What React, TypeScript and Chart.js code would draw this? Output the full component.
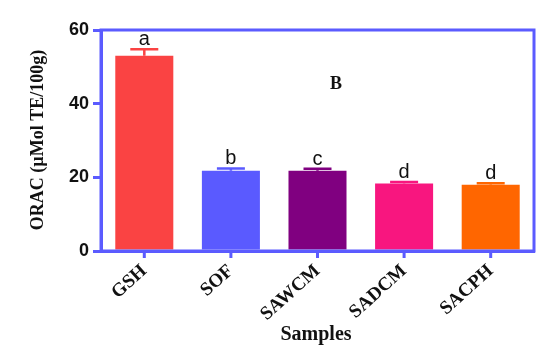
import React, { useEffect, useRef } from "react";
import { Chart, registerables } from "chart.js";

Chart.register(...registerables);

const categories = ["GSH", "SOF", "SAWCM", "SADCM", "SACPH"];
const values = [53.0, 21.8, 21.8, 18.3, 18.0];
const errors = [1.8, 0.6, 0.5, 0.4, 0.4];
const letters = ["a", "b", "c", "d", "d"];
const colors = ["#fa4343", "#5a5aff", "#800080", "#f8167f", "#ff6600"];
const yTicks = [0, 20, 40, 60];
const frameColor = "#5b5bff";

const overlayPlugin = {
  id: "overlay",
  afterDatasetsDraw(chart: any) {
    const ctx = chart.ctx;
    const meta = chart.getDatasetMeta(0);
    const y = chart.scales.y;
    const x = chart.scales.x;
    const area = chart.chartArea;
    ctx.save();
    meta.data.forEach((bar: any, i: number) => {
      const top = y.getPixelForValue(values[i]);
      const capY = y.getPixelForValue(values[i] + errors[i]);
      ctx.strokeStyle = colors[i];
      ctx.lineWidth = 2.5;
      ctx.beginPath();
      ctx.moveTo(bar.x, top);
      ctx.lineTo(bar.x, capY);
      ctx.moveTo(bar.x - 14, capY);
      ctx.lineTo(bar.x + 14, capY);
      ctx.stroke();
      ctx.fillStyle = "#111";
      ctx.font = "20px 'Liberation Sans', Arial, sans-serif";
      ctx.textAlign = "center";
      ctx.textBaseline = "alphabetic";
      ctx.fillText(letters[i], bar.x, capY - 4);
    });
    // x tick marks at category centers
    ctx.strokeStyle = frameColor;
    ctx.lineWidth = 3;
    ctx.beginPath();
    categories.forEach((_, i) => {
      const px = x.getPixelForValue(i);
      ctx.moveTo(px, area.bottom);
      ctx.lineTo(px, area.bottom + 7);
    });
    ctx.stroke();
    ctx.strokeRect(area.left, area.top, area.right - area.left, area.bottom - area.top);
    ctx.fillStyle = "#111";
    ctx.font = "bold 18px 'Liberation Serif', 'Times New Roman', serif";
    ctx.textAlign = "center";
    ctx.textBaseline = "middle";
    ctx.fillText("B", 336, 84);
    ctx.font = "bold 20px 'Liberation Serif', 'Times New Roman', serif";
    ctx.fillText("Samples", 316, 335);
    ctx.translate(38, 140);
    ctx.rotate(-Math.PI / 2);
    ctx.font = "bold 18px 'Liberation Serif', 'Times New Roman', serif";
    ctx.fillText("ORAC (\u00b5Mol TE/100g)", 0, 0);
    ctx.restore();
  },
};

export default function App() {
  const ref = useRef<HTMLCanvasElement>(null);
  useEffect(() => {
    document.body.style.margin = "0";
    const chart = new Chart(ref.current!, {
      type: "bar",
      data: {
        labels: categories,
        datasets: [
          {
            data: values,
            backgroundColor: colors,
            borderWidth: 0,
            barPercentage: 0.67,
            categoryPercentage: 1,
          },
        ],
      },
      options: {
        responsive: false,
        animation: false,
        layout: { padding: { top: 30, right: 16, left: 0, bottom: 0 } },
        plugins: { legend: { display: false }, tooltip: { enabled: false } },
        scales: {
          x: {
            afterFit(scale: any) {
              scale.height = 103;
            },
            grid: {
              display: false,
              drawOnChartArea: false,
              drawTicks: false,
              tickLength: 7,
            },
            border: { display: true, color: frameColor, width: 3 },
            ticks: {
              minRotation: 42,
              maxRotation: 42,
              padding: 9,
              color: "#111",
              font: { family: "'Liberation Serif', 'Times New Roman', serif", weight: "bold", size: 19 },
            },
          },
          y: {
            min: 0,
            max: 60,
            afterFit(scale: any) {
              scale.width = 101;
            },
            afterBuildTicks(scale: any) {
              scale.ticks = yTicks.map((v) => ({ value: v }));
            },
            grid: {
              display: true,
              drawOnChartArea: false,
              drawTicks: true,
              tickLength: 8,
              color: frameColor,
              lineWidth: 3,
            },
            border: { display: true, color: frameColor, width: 3 },
            ticks: {
              padding: 4,
              color: "#111",
              font: { family: "'Liberation Sans', Arial, sans-serif", weight: "bold", size: 18 },
            },
          },
        },
      },
      plugins: [overlayPlugin],
    });
    return () => chart.destroy();
  }, []);
  return <canvas ref={ref} width={550} height={354} style={{ display: "block" }} />;
}
